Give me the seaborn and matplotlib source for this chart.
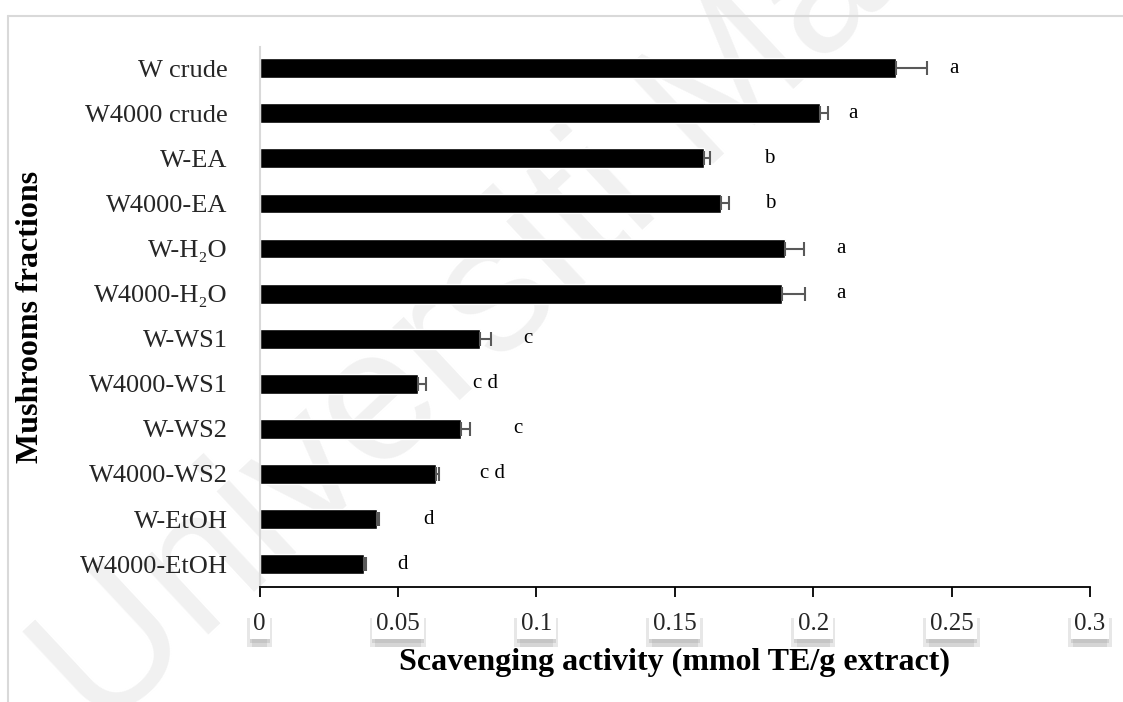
import numpy as np
import pandas as pd
import matplotlib
matplotlib.use("Agg")
import matplotlib.pyplot as plt
import matplotlib.patheffects as pe
from matplotlib.lines import Line2D
import seaborn as sns

# ---- data ----
categories = ["W crude", "W4000 crude", "W-EA", "W4000-EA", "W-H\u2082O", "W4000-H\u2082O",
              "W-WS1", "W4000-WS1", "W-WS2", "W4000-WS2", "W-EtOH", "W4000-EtOH"]
values = [0.230, 0.2025, 0.1605, 0.1666, 0.1897, 0.1888,
          0.0797, 0.0572, 0.0729, 0.0638, 0.0425, 0.0377]
errors = [0.0112, 0.0027, 0.0023, 0.0030, 0.0070, 0.0082,
          0.0040, 0.0030, 0.0030, 0.0010, 0.0005, 0.0006]
letters = ["a", "a", "b", "b", "a", "a", "c", "c d", "c", "c d", "d", "d"]
letter_pos = [0.2507, 0.2142, 0.1840, 0.1846, 0.2101, 0.2099,
              0.0969, 0.0816, 0.0934, 0.0843, 0.0611, 0.0515]
x_ticks = [0, 0.05, 0.1, 0.15, 0.2, 0.25, 0.3]
x_tick_labels = ["0", "0.05", "0.1", "0.15", "0.2", "0.25", "0.3"]

sns.set_theme(style="white")
serif = ["Liberation Serif", "DejaVu Serif"]
plt.rcParams["font.family"] = serif

fig = plt.figure(figsize=(11.23, 7.02), dpi=100)
fig.patch.set_facecolor("white")
ax = fig.add_axes([259.5 / 1123, 1 - 586.7 / 702, (1090 - 259.5) / 1123, (586.7 - 47) / 702])
ax.patch.set_alpha(0)

df = pd.DataFrame({"cat": categories, "val": values})
sns.barplot(data=df, x="val", y="cat", orient="h", color="black", width=0.44,
            errorbar=None, ax=ax, saturation=1)
ypos = np.arange(len(categories))
ax.errorbar(values, ypos, xerr=[np.zeros(len(errors)), errors], fmt="none",
            ecolor="#595959", elinewidth=1.5, capsize=5, capthick=1.5, zorder=3)

for y, lx, t in zip(ypos, letter_pos, letters):
    ax.text(lx, y, t, ha="center", va="center", fontsize=15, family=serif, color="black")

ax.set_xlim(0, 0.3)
ax.set_ylim(11.5, -0.47)
ax.set_xticks(x_ticks)
ax.set_xticklabels(x_tick_labels, fontsize=18, family=serif)
ax.tick_params(axis="x", direction="out", length=7, width=1.3, color="black", pad=12, bottom=True)
ax.tick_params(axis="y", length=0, pad=23, labelsize=19)
for lbl in ax.get_yticklabels():
    lbl.set_family(serif)

for s in ["top", "right"]:
    ax.spines[s].set_visible(False)
ax.spines["bottom"].set_color("black")
ax.spines["bottom"].set_linewidth(1.3)
ax.spines["left"].set_color("#d9d9d9")
ax.spines["left"].set_linewidth(1.5)

for lbl in ax.get_xticklabels():
    lbl.set_bbox(dict(boxstyle="square,pad=0.15", facecolor="white", edgecolor="none"))
    lbl.get_bbox_patch().set_path_effects([
        pe.SimplePatchShadow(offset=(-2, -6), shadow_rgbFace="#a0a0a0", alpha=0.25),
        pe.SimplePatchShadow(offset=(2, -6), shadow_rgbFace="#a0a0a0", alpha=0.25),
        pe.SimplePatchShadow(offset=(0, -3), shadow_rgbFace="#a0a0a0", alpha=0.3),
        pe.Normal()])

ax.set_xlabel("Scavenging activity (mmol TE/g extract)", fontsize=23, fontweight="bold",
              family=serif, color="black")
ax.xaxis.set_label_coords(0.5, (586.7 - 662) / (586.7 - 47))
ax.xaxis.label.set_va("center")
ax.set_ylabel("Mushrooms fractions", fontsize=23, fontweight="bold", family=serif, color="black")
ax.yaxis.set_label_coords((30 - 259.5) / (1090 - 259.5), 0.5)
ax.yaxis.label.set_va("center")

# outer light border (top and left)
fig.add_artist(Line2D([8 / 1123, 1.0], [1 - 16 / 702, 1 - 16 / 702], color="#d9d9d9", lw=1.5))
fig.add_artist(Line2D([8 / 1123, 8 / 1123], [0.0, 1 - 16 / 702], color="#d9d9d9", lw=1.5))

# watermark
fig.text(100 / 1123, 1 - 735 / 702, "Universiti Malaya", fontsize=135, color="#f1f1f1",
         rotation=43, rotation_mode="anchor", ha="left", va="baseline",
         family="Liberation Sans", zorder=-1)

fig.savefig("out.png", dpi=100, facecolor="white")
